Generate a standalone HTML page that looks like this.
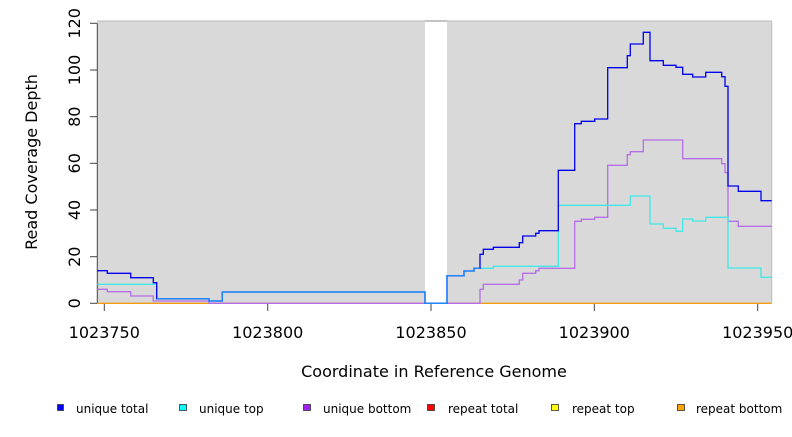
<!DOCTYPE html>
<html><head><meta charset="utf-8"><style>
html,body{margin:0;padding:0;background:#fff;}
body{width:792px;height:432px;overflow:hidden;}
text{font-family:"DejaVu Sans","Liberation Sans",sans-serif;fill:#000;}
</style></head><body>
<svg width="792" height="432" viewBox="0 0 792 432" xmlns="http://www.w3.org/2000/svg">
<rect x="97.3" y="21" width="674.4" height="282.3" fill="#d9d9d9"/>
<rect x="425" y="21" width="22" height="282.3" fill="#fff"/>
<line x1="97.3" y1="21" x2="771.7" y2="21" stroke="#bbb" stroke-width="1"/>
<line x1="425" y1="21" x2="447" y2="21" stroke="#888" stroke-width="1"/>
<line x1="771.7" y1="21" x2="771.7" y2="303.3" stroke="#bbb" stroke-width="1"/>
<g stroke="#444" stroke-width="1">
<line x1="97.3" y1="23.3" x2="97.3" y2="303.3"/>
<line x1="90" y1="23.3" x2="97.3" y2="23.3"/>
<line x1="90" y1="70" x2="97.3" y2="70"/>
<line x1="90" y1="116.7" x2="97.3" y2="116.7"/>
<line x1="90" y1="163.3" x2="97.3" y2="163.3"/>
<line x1="90" y1="210" x2="97.3" y2="210"/>
<line x1="90" y1="256.7" x2="97.3" y2="256.7"/>
<line x1="90" y1="303.3" x2="97.3" y2="303.3"/>
<line x1="104.3" y1="303.3" x2="104.3" y2="311"/>
<line x1="267.7" y1="303.3" x2="267.7" y2="311"/>
<line x1="431" y1="303.3" x2="431" y2="311"/>
<line x1="594.3" y1="303.3" x2="594.3" y2="311"/>
<line x1="757.7" y1="303.3" x2="757.7" y2="311"/>
</g>
<g font-size="16" text-anchor="middle">
<text transform="translate(75,23.3) rotate(-90)" dy="5">120</text>
<text transform="translate(75,70) rotate(-90)" dy="5">100</text>
<text transform="translate(75,116.7) rotate(-90)" dy="5">80</text>
<text transform="translate(75,163.3) rotate(-90)" dy="5">60</text>
<text transform="translate(75,210) rotate(-90)" dy="5">40</text>
<text transform="translate(75,256.7) rotate(-90)" dy="5">20</text>
<text transform="translate(75,303.3) rotate(-90)" dy="5">0</text>
<text x="104.3" y="338">1023750</text>
<text x="267.7" y="338">1023800</text>
<text x="431" y="338">1023850</text>
<text x="594.3" y="338">1023900</text>
<text x="757.7" y="338">1023950</text>
<text x="434" y="377">Coordinate in Reference Genome</text>
<text transform="translate(37,162) rotate(-90)">Read Coverage Depth</text>
</g>
<line x1="97.3" y1="303.3" x2="771.7" y2="303.3" stroke="#f39c12" stroke-width="1.3"/>
<polyline fill="none" stroke="#b56ee8" stroke-width="1.3" points="97.3,289.3 107.3,289.3 107.3,291.7 130.7,291.7 130.7,296 153.3,296 153.3,301 209,301 209,303.3 480,303.3 480,289.3 483.3,289.3 483.3,284.3 519.3,284.3 519.3,280 522.7,280 522.7,273.3 535.7,273.3 535.7,270.7 539,270.7 539,268.3 574.7,268.3 574.7,221.3 581.3,221.3 581.3,219.3 594.7,219.3 594.7,217.3 607.7,217.3 607.7,165.3 627.3,165.3 627.3,154.7 630.3,154.7 630.3,151.7 643.3,151.7 643.3,140 682.7,140 682.7,158.7 721.7,158.7 721.7,163.7 725,163.7 725,172.7 728,172.7 728,221.3 738.3,221.3 738.3,226.3 771.7,226.3"/>
<polyline fill="none" stroke="#40e8e8" stroke-width="1.3" points="97.3,284.3 156.7,284.3 156.7,298.7 209,298.7 209,301 222.3,301 222.3,292 425,292 425,303.3 447,303.3 447,275.7 464,275.7 464,271 474,271 474,268.3 493.3,268.3 493.3,266.3 558.3,266.3 558.3,205.3 630.3,205.3 630.3,196 650,196 650,224 663.3,224 663.3,228.3 676,228.3 676,231.3 682.7,231.3 682.7,219 692.7,219 692.7,221 705.7,221 705.7,217.3 728,217.3 728,268 761,268 761,277.3 771.7,277.3"/>
<polyline fill="none" stroke="#0000ee" stroke-width="1.3" points="97.3,270.7 107.3,270.7 107.3,273.3 130.7,273.3 130.7,277.7 153.3,277.7 153.3,282.7 156.7,282.7 156.7,298.7 209,298.7 209,301 222.3,301 222.3,292 425,292 425,303.3 447,303.3 447,275.7 464,275.7 464,271 474,271 474,268.3 480,268.3 480,254.3 483.3,254.3 483.3,249.3 493.3,249.3 493.3,247.3 519.3,247.3 519.3,242.7 522.7,242.7 522.7,236 535.7,236 535.7,233.3 539,233.3 539,230.7 558.3,230.7 558.3,170.3 574.7,170.3 574.7,123.7 581.3,123.7 581.3,121.3 594.7,121.3 594.7,119 607.7,119 607.7,67.7 627.3,67.7 627.3,55.7 630.3,55.7 630.3,44 643.3,44 643.3,32.3 650,32.3 650,60.7 663.3,60.7 663.3,65.3 676,65.3 676,67.3 682.7,67.3 682.7,74.3 692.7,74.3 692.7,77 705.7,77 705.7,72.3 721.7,72.3 721.7,76.7 725,76.7 725,86.3 728,86.3 728,186 738.3,186 738.3,191.3 761,191.3 761,200.7 771.7,200.7"/>
<polyline fill="none" stroke="#1e88ff" stroke-width="1.3" points="156.7,298.7 209,298.7 209,301 222.3,301 222.3,292 425,292 425,303.3 447,303.3 447,275.7 464,275.7 464,271 474,271 474,268.3 480,268.3"/>
<g stroke="#333" stroke-width="0.8">
<rect x="57.5" y="404.5" width="6" height="6" fill="#0000ff"/>
<rect x="179.5" y="404.5" width="7" height="6" fill="#00ffff"/>
<rect x="303.5" y="404.5" width="7" height="6" fill="#a020f0"/>
<rect x="427.5" y="404.5" width="7" height="6" fill="#ff0000"/>
<rect x="551.5" y="404.5" width="7" height="6" fill="#ffff00"/>
<rect x="677.5" y="404.5" width="7" height="6" fill="#ffa500"/>
</g>
<g font-size="12">
<text x="76" y="413">unique total</text>
<text x="199" y="413">unique top</text>
<text x="323" y="413">unique bottom</text>
<text x="448" y="413">repeat total</text>
<text x="572" y="413">repeat top</text>
<text x="696" y="413">repeat bottom</text>
</g>
</svg>
</body></html>
